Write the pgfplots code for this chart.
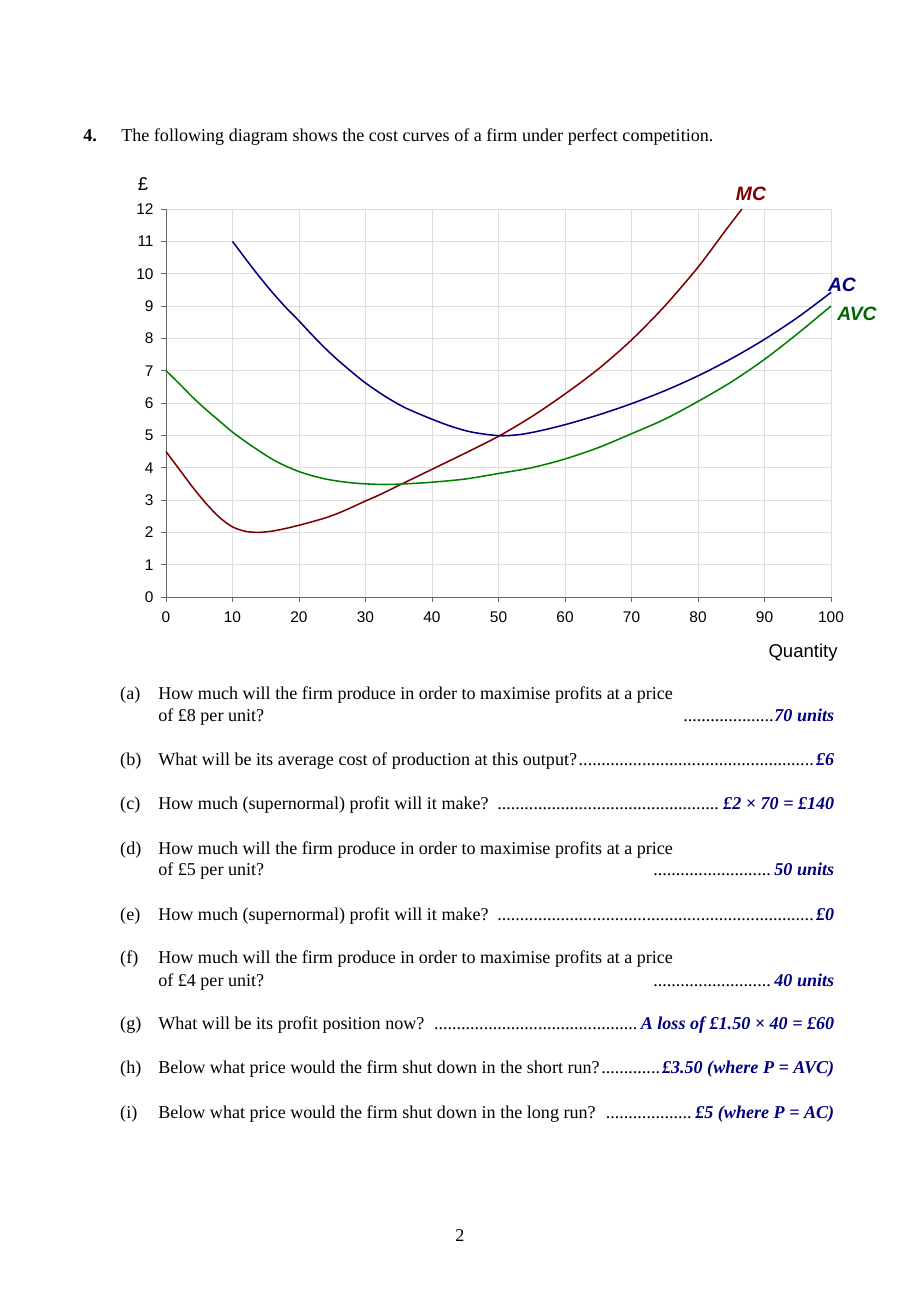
\documentclass[border=0pt]{standalone}
\usepackage{fontspec}
\setmainfont{Liberation Serif}
\newfontfamily\arial{Liberation Sans}
\usepackage{pgfplots}
\pgfplotsset{compat=1.18}
\definecolor{mccol}{RGB}{128,0,0}
\definecolor{accol}{RGB}{0,0,128}
\definecolor{avccol}{RGB}{0,128,0}
\definecolor{anscol}{RGB}{0,0,128}
\newcommand{\ans}[1]{{\color{anscol}\bfseries\itshape #1}}
\newcommand{\lead}{\leaders\hbox{.}\hfill}
\newcommand{\qw}{437.4pt}
\begin{document}
\begin{tikzpicture}
\fill[white] (0pt,0pt) rectangle (595.3pt,841.8pt);
\useasboundingbox (0pt,0pt) rectangle (595.3pt,841.8pt);
\begin{axis}[
  at={(107.4pt,455.5pt)}, anchor=south west,
  scale only axis, width=430.3pt, height=251.05pt,
  xmin=0, xmax=100, ymin=0, ymax=12,
  xtick={0,10,...,100}, ytick={0,1,...,12},
  axis x line*=bottom, axis y line*=left,
  axis line style={draw=black!60, line width=0.6pt},
  tick align=outside, major tick length=3.2pt,
  tick style={draw=black!60, line width=0.6pt},
  grid=major, major grid style={draw=black!13, line width=0.5pt},
  ticklabel style={font=\arial\fontsize{10}{12}\selectfont},
  xticklabel style={yshift=-2.5pt},
  yticklabel style={xshift=-1.3pt},
  /pgf/number format/assume math mode=true,
  clip=false,
]
\addplot[mccol, line width=1pt, smooth] coordinates {
(0,4.5) (2,3.95) (4,3.4) (6,2.9) (8,2.47) (10,2.17) (12,2.03) (14,2.0) (16,2.04) (18,2.12) (20,2.22) (22,2.33) (24,2.45) (26,2.6) (28,2.78) (30,2.97) (32,3.15) (35,3.45) (40,3.95) (45,4.45) (50,4.97) (55,5.58) (60,6.28) (65,7.05) (70,7.95) (75,9.0) (80,10.2) (84,11.3) (86.6,12)
};
\addplot[avccol, line width=1pt, smooth] coordinates {
(0,7.0) (2,6.6) (4,6.18) (6,5.8) (8,5.45) (10,5.1) (12,4.8) (14,4.52) (16,4.26) (18,4.05) (20,3.88) (22,3.75) (24,3.65) (26,3.58) (28,3.53) (30,3.5) (33,3.48) (36,3.5) (40,3.55) (45,3.65) (50,3.82) (55,4.0) (60,4.27) (65,4.62) (70,5.05) (75,5.5) (80,6.05) (85,6.65) (90,7.35) (95,8.15) (100,9.0)
};
\addplot[accol, line width=1pt, smooth] coordinates {
(10,11.0) (12,10.45) (14,9.92) (16,9.42) (18,8.96) (20,8.54) (22,8.1) (24,7.68) (26,7.3) (28,6.95) (30,6.62) (33,6.2) (36,5.85) (40,5.5) (43,5.27) (46,5.1) (50,4.99) (53,5.02) (56,5.13) (60,5.33) (65,5.63) (70,5.98) (75,6.38) (80,6.84) (85,7.37) (90,7.97) (95,8.65) (100,9.42)
};
\end{axis}
\begin{scope}[x=1pt,y=1pt]
% chart labels
\node[font=\arial\fontsize{12}{14}\selectfont] at (92.5,722.7) {£};
\node[font=\arial\fontsize{12}{14}\selectfont] at (519.6,419.5) {Quantity};
\node[font=\arial\bfseries\itshape\fontsize{12.5}{14}\selectfont, text=mccol] at (485.9,716.4) {MC};
\node[font=\arial\bfseries\itshape\fontsize{12.5}{14}\selectfont, text=accol] at (544.8,657.4) {AC};
\node[font=\arial\bfseries\itshape\fontsize{12.5}{14}\selectfont, text=avccol!80!black] at (554.5,638.6) {AVC};
\end{scope}
% header
\begin{scope}[x=1pt,y=1pt,every node/.style={inner sep=0pt, anchor=base west, font=\fontsize{11.7}{14}\selectfont}]
\node at (53.7,750.1) {\bfseries 4.};
\node at (78.3,750.1) {The following diagram shows the cost curves of a firm under perfect competition.};
% (a)
\node at (77.6,388.9) {(a)};
\node at (102.2,388.9) {How much will the firm produce in order to maximise profits at a price};
\node at (102.2,374.96) {\hbox to \qw{of £8 per unit?\hfill\hbox to 97.7pt{\lead\ans{70 units}}}};
% (b)
\node at (77.6,346.8) {(b)};
\node at (102.2,346.8) {\hbox to \qw{What will be its average cost of production at this output?\lead\ans{£6}}};
% (c)
\node at (77.6,318.3) {(c)};
\node at (102.2,318.3) {\hbox to \qw{How much (supernormal) profit will it make? \lead\ans{£2 × 70 = £140}}};
% (d)
\node at (77.6,289.2) {(d)};
\node at (102.2,289.2) {How much will the firm produce in order to maximise profits at a price};
\node at (102.2,275.0) {\hbox to \qw{of £5 per unit?\hfill\hbox to 117.1pt{\lead\ans{50 units}}}};
% (e)
\node at (77.6,246.5) {(e)};
\node at (102.2,246.5) {\hbox to \qw{How much (supernormal) profit will it make? \lead\ans{£0}}};
% (f)
\node at (77.6,218.1) {(f)};
\node at (102.2,218.1) {How much will the firm produce in order to maximise profits at a price};
\node at (102.2,203.8) {\hbox to \qw{of £4 per unit?\hfill\hbox to 117.1pt{\lead\ans{40 units}}}};
% (g)
\node at (77.6,175.8) {(g)};
\node at (102.2,175.8) {\hbox to \qw{What will be its profit position now? \lead\ans{A loss of £1.50 × 40 = £60}}};
% (h)
\node at (77.6,146.9) {(h)};
\node at (102.2,146.9) {\hbox to \qw{Below what price would the firm shut down in the short run?\lead\ans{£3.50 (where P = AVC)}}};
% (i)
\node at (77.6,118.2) {(i)};
\node at (102.2,118.2) {\hbox to \qw{Below what price would the firm shut down in the long run? \lead\ans{£5 (where P = AC)}}};
\node[anchor=base] at (297.6,38.8) {2};
\end{scope}
\end{tikzpicture}
\end{document}
